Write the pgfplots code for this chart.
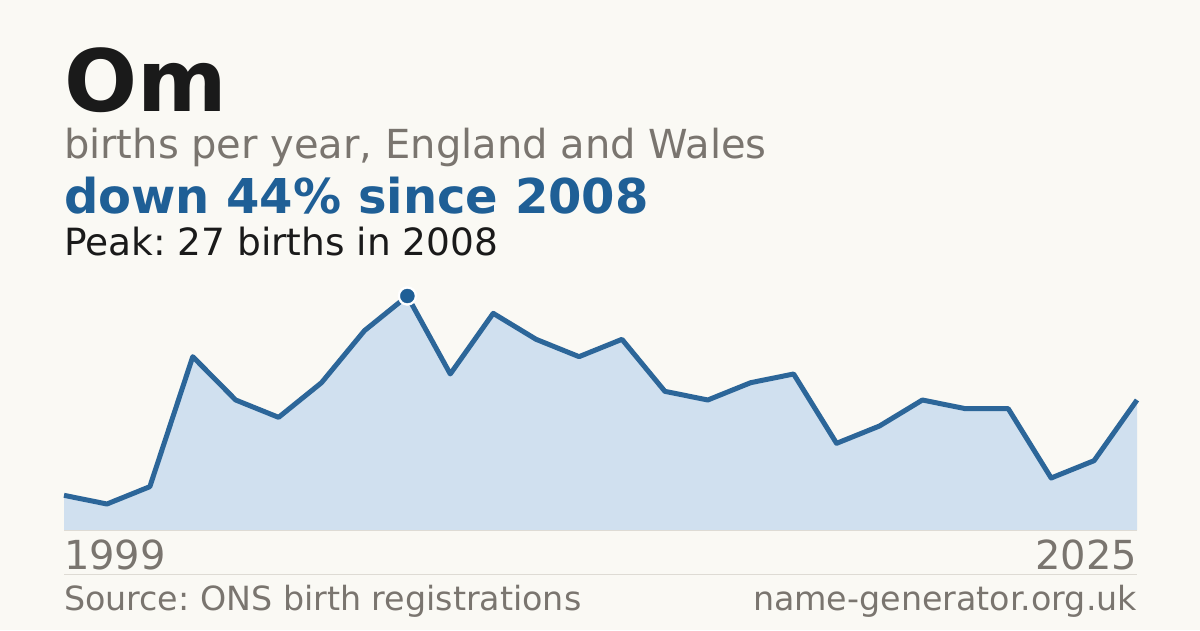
\documentclass[border=0pt]{standalone}
\usepackage{fontspec}
\setmainfont{DejaVu Sans}
\usepackage{pgfplots}
\pgfplotsset{compat=1.18}

\definecolor{bgcol}{HTML}{FAF9F4}
\definecolor{inkcol}{HTML}{1A1A1A}
\definecolor{mutedcol}{HTML}{7A756F}
\definecolor{accent}{HTML}{1F5F96}
\definecolor{linecol}{HTML}{2C6699}
\definecolor{areacol}{HTML}{D0E0EF}
\definecolor{rulecol}{HTML}{DEDBD4}

\begin{document}
\frenchspacing
\begin{tikzpicture}[every node/.style={inner sep=0pt, outer sep=0pt}]
% canvas, 1px = 1pt
\fill[bgcol] (0pt,0pt) rectangle (1200pt,630pt);

% header
\node[anchor=base west, text=inkcol] at (64pt,518pt)
  {\fontsize{86}{86}\selectfont\bfseries Om};
\node[anchor=base west, text=mutedcol] at (64pt,471pt)
  {\fontsize{40}{40}\selectfont births per year, England and Wales};
\node[anchor=base west, text=accent] at (64pt,416pt)
  {\fontsize{48}{48}\selectfont\bfseries down 44\% since 2008};
\node[anchor=base west, text=inkcol] at (64pt,374pt)
  {\fontsize{37.5}{37.5}\selectfont Peak: 27 births in 2008};

\begin{axis}[
    at={(64pt,100pt)}, anchor=south west,
    scale only axis,
    width=1073pt, height=234pt,
    xmin=0, xmax=25, ymin=0, ymax=27,
    axis lines=none,
    clip=false,
]
% births per year, 1999 to 2025 (26 points)
\addplot[fill=areacol, draw=none] coordinates {
    (0,4) (1,3) (2,5) (3,20) (4,15) (5,13) (6,17) (7,23) (8,27) (9,18)
    (10,25) (11,22) (12,20) (13,22) (14,16) (15,15) (16,17) (17,18) (18,10)
    (19,12) (20,15) (21,14) (22,14) (23,6) (24,8) (25,15)
} \closedcycle;
\addplot[rulecol, line width=1pt] coordinates {(0,0) (25,0)};
\addplot[linecol, line width=5pt, line join=round] coordinates {
    (0,4) (1,3) (2,5) (3,20) (4,15) (5,13) (6,17) (7,23) (8,27) (9,18)
    (10,25) (11,22) (12,20) (13,22) (14,16) (15,15) (16,17) (17,18) (18,10)
    (19,12) (20,15) (21,14) (22,14) (23,6) (24,8) (25,15)
};
% peak marker: white ring, then blue dot
\addplot[white, only marks, mark=*, mark size=9.5pt] coordinates {(8,27)};
\addplot[accent, only marks, mark=*, mark size=7pt] coordinates {(8,27)};
\end{axis}

% x range labels and footer
\node[anchor=base west, text=mutedcol] at (64pt,61pt)
  {\fontsize{40}{40}\selectfont 1999};
\node[anchor=base east, text=mutedcol] at (1137pt,61pt)
  {\fontsize{40}{40}\selectfont 2025};
\draw[rulecol, line width=1pt] (64pt,56pt) -- (1137pt,56pt);
\node[anchor=base west, text=mutedcol] at (64pt,20pt)
  {\fontsize{33.3}{33.3}\selectfont Source: ONS birth registrations};
\node[anchor=base east, text=mutedcol] at (1137pt,20pt)
  {\fontsize{33.3}{33.3}\selectfont name-generator.org.uk};
\end{tikzpicture}
\end{document}
